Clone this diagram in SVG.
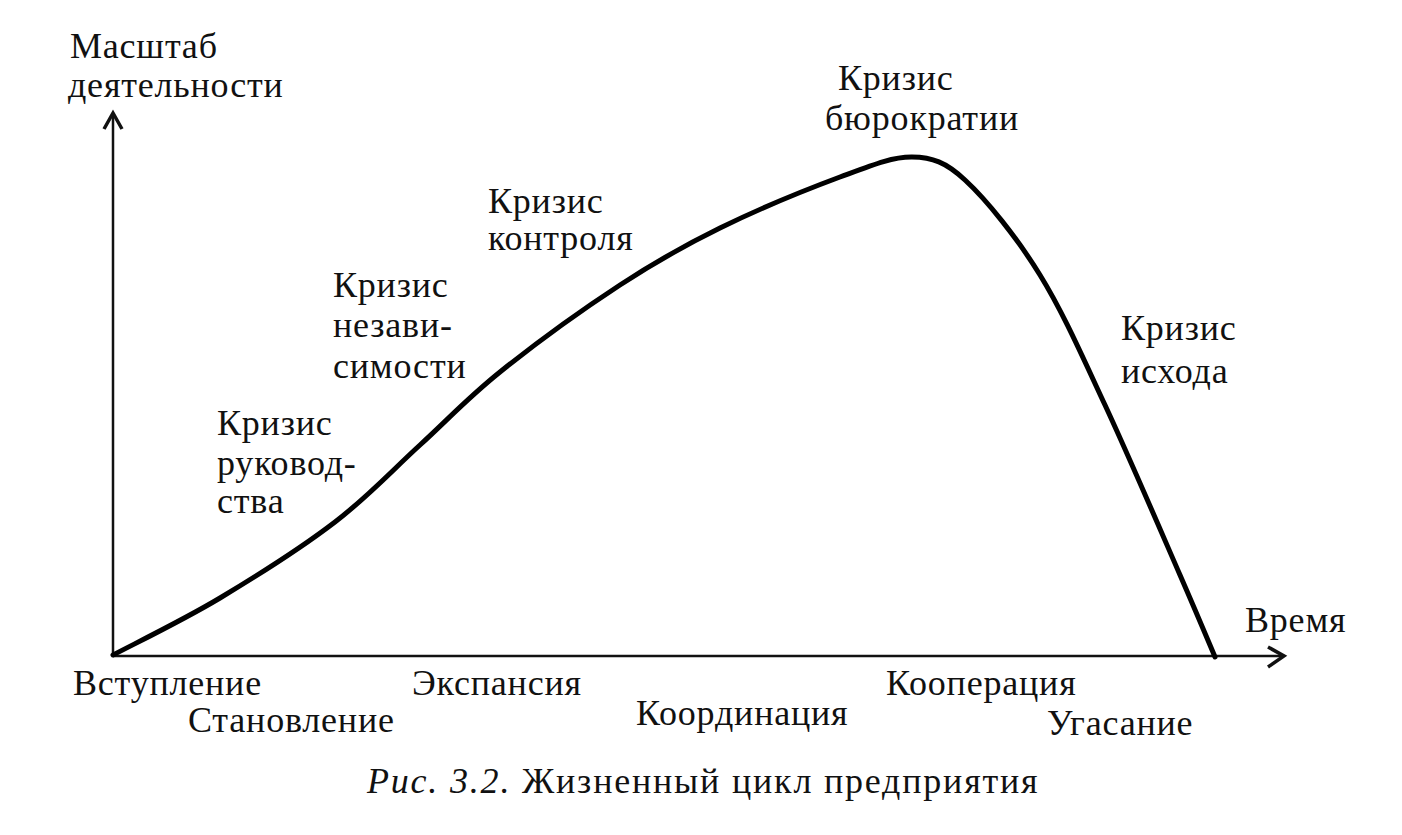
<svg xmlns="http://www.w3.org/2000/svg" width="1402" height="835" viewBox="0 0 1402 835">
<style>
text{font-family:"Liberation Serif",serif;font-size:36px;fill:#111;letter-spacing:0.8px}
.ax{stroke:#111;stroke-width:2.5;fill:none}
.ah{stroke:#111;stroke-width:3.5;fill:none;stroke-linejoin:miter}
.curve{stroke:#000;stroke-width:5;fill:none;stroke-linecap:round;stroke-linejoin:round}
</style>
<rect width="1402" height="835" fill="#fff"/>
<g id="axes">
<line class="ax" x1="113" y1="655" x2="113" y2="114"/>
<polyline class="ah" points="104,129 113,113 122,129"/>
<line class="ax" x1="113" y1="656" x2="1283" y2="656"/>
<polyline class="ah" points="1268,647 1284,656 1268,667"/>
</g>
<g id="axis-labels">
<text x="70" y="58" font-size="35">Масштаб</text>
<text x="68" y="97" font-size="35">деятельности</text>
<text x="1245" y="632">Время</text>
</g>
<g id="crisis-leadership">
<text x="217" y="435">Кризис</text>
<text x="217" y="475">руковод-</text>
<text x="217" y="513">ства</text>
</g>
<g id="crisis-autonomy">
<text x="333" y="297">Кризис</text>
<text x="333" y="337">незави-</text>
<text x="333" y="378">симости</text>
</g>
<g id="crisis-control">
<text x="488" y="213">Кризис</text>
<text x="488" y="250">контроля</text>
</g>
<g id="crisis-bureaucracy">
<text x="838" y="90">Кризис</text>
<text x="825" y="130">бюрократии</text>
</g>
<g id="crisis-exit">
<text x="1121" y="340">Кризис</text>
<text x="1121" y="383">исхода</text>
</g>
<g id="stages">
<text x="73" y="695">Вступление</text>
<text x="188" y="732">Становление</text>
<text x="412" y="695">Экспансия</text>
<text x="636" y="725">Координация</text>
<text x="886" y="695">Кооперация</text>
<text x="1047" y="735">Угасание</text>
</g>
<g id="caption">
<text x="367" y="793" font-size="39" style="letter-spacing:1.8px"><tspan font-style="italic">Рис.</tspan> <tspan font-style="italic">3.2.</tspan> Жизненный цикл предприятия</text>
</g>
<g id="connectors">
<path class="curve" d="M113,655 C130.8,645.5 183,620.2 220,598 C257,575.8 301.7,547.5 335,522 C368.3,496.5 392.5,470 420,445 C447.5,420 466.7,398.7 500,372 C533.3,345.3 583.3,309 620,285 C656.7,261 683.3,246 720,228 C756.7,210 808.3,188.8 840,177 C871.7,165.2 892,156.8 912,157 C932,157.2 946,162 965,180 C986.7,200 1016.7,237.2 1040,275 C1063.3,312.8 1081.7,355 1105,405 C1128.3,455 1161.7,533 1180,575 C1198.3,617 1209.2,643.3 1215,657"/>
</g>
</svg>
